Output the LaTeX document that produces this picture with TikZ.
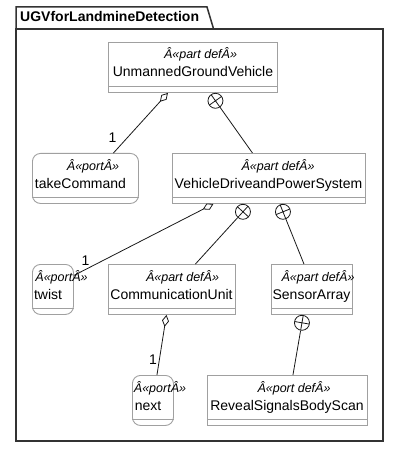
\documentclass[tikz,border=0pt]{standalone}
\usepackage{fontspec}
\setmainfont{Liberation Sans}
\usetikzlibrary{calc,arrows.meta}
\definecolor{boxgray}{RGB}{160,160,160}
\definecolor{framegray}{RGB}{51,51,51}
\definecolor{linedark}{RGB}{24,24,24}
\tikzset{
    partbox/.style={draw=boxgray,line width=0.9pt,rectangle,inner sep=0pt,minimum height=50pt,anchor=north west},
    portbox/.style={partbox,rounded corners=8pt},
    compline/.style={draw=boxgray,line width=0.9pt},
    stereotext/.style={anchor=base,inner sep=0pt,font=\fontsize{12.5}{14}\selectfont\itshape},
    nametext/.style={anchor=base,inner sep=0pt,font=\fontsize{14}{16}\selectfont},
    multtext/.style={inner sep=0pt,font=\fontsize{14}{16}\selectfont},
    ownedcirc/.style={circle,draw=linedark,line width=0.8pt,minimum size=15pt,inner sep=0pt,anchor=north},
    conn/.style={draw=linedark,line width=0.8pt},
    aggr/.style={conn,{Diamond[open,length=12pt,width=7pt]}-}
}
\begin{document}
\begin{tikzpicture}[x=1pt,y=-1pt]
        \useasboundingbox (0,0) rectangle (400,449);
        % 包框与标签页
        \draw[framegray,line width=1.5pt] (16,29) rectangle (383,441);
        \draw[framegray,line width=1.5pt] (16,29)--(16,7)--(207,7)--(213,27)--(213,29);
        \node[anchor=base west,inner sep=0pt,font=\fontsize{14}{16}\selectfont\bfseries] (pkg) at (20,22) {UGVforLandmineDetection};
        % 各个块
        \node[partbox,minimum width=169pt] (ugv) at (108,42) {};
        \node[portbox,minimum width=106pt] (tc) at (32,153) {};
        \node[partbox,minimum width=193pt] (vdps) at (172,153) {};
        \node[portbox,minimum width=41pt] (twist) at (32,264) {};
        \node[partbox,minimum width=127pt] (cu) at (108,264) {};
        \node[partbox,minimum width=81pt] (sa) at (271,264) {};
        \node[portbox,minimum width=41pt] (nextport) at (132,375) {};
        \node[partbox,minimum width=160pt] (rsb) at (207,375) {};
        \foreach \b in {ugv,tc,vdps,twist,cu,sa,nextport,rsb}%分隔线
        {
            \draw[compline] ([yshift=6.5pt]\b.south west)--([yshift=6.5pt]\b.south east);
        }
        % 文字
        \node[stereotext] (ugvS) at (200.5,59) {Â«part defÂ»};
        \node[nametext] (ugvN) at (193,77) {UnmannedGroundVehicle};
        \node[stereotext] (tcS) at (93,170) {Â«portÂ»};
        \node[nametext] (tcN) at (80.5,188) {takeCommand};
        \node[stereotext] (vdpsS) at (278,170) {Â«part defÂ»};
        \node[nametext] (vdpsN) at (268.5,188) {VehicleDriveandPowerSystem};
        \node[stereotext] (twistS) at (61.5,281) {Â«portÂ»};
        \node[nametext] (twistN) at (48,299) {twist};
        \node[stereotext] (cuS) at (182.5,281) {Â«part defÂ»};
        \node[nametext] (cuN) at (171.5,299) {CommunicationUnit};
        \node[stereotext] (saS) at (318,281) {Â«part defÂ»};
        \node[nametext] (saN) at (311.5,299) {SensorArray};
        \node[stereotext] (nextS) at (160,392) {Â«portÂ»};
        \node[nametext] (nextN) at (148,410) {next};
        \node[stereotext] (rsbS) at (294,392) {Â«port defÂ»};
        \node[nametext] (rsbN) at (287,410) {RevealSignalsBodyScan};
        % 组合关系
        \node[ownedcirc] (oc1) at ([xshift=22.5pt]ugv.south) {};
        \node[ownedcirc] (oc2) at ([xshift=-26pt]vdps.south) {};
        \node[ownedcirc] (oc3) at ([xshift=14pt]vdps.south) {};
        \node[ownedcirc] (oc4) at ([xshift=-10pt]sa.south) {};
        \coordinate (vdpsIn) at ([xshift=-16.5pt]vdps.north);
        \coordinate (cuIn) at ([xshift=23.5pt]cu.north);
        \coordinate (saIn) at ([xshift=-8pt]sa.north);
        \coordinate (rsbIn) at ([xshift=5.5pt]rsb.north);
        \foreach \c/\t in {oc1/vdpsIn,oc2/cuIn,oc3/saIn,oc4/rsbIn}
        {
            \draw[conn] ($(\c)!7.5pt!(\t)$)--($(\c)!-7.5pt!(\t)$) ($(\c)!7.5pt!90:(\t)$)--($(\c)!7.5pt!-90:(\t)$);
            \draw[conn] (\c)--(\t);
        }
        % 聚合关系
        \draw[aggr] ([xshift=-25pt]ugv.south)--([xshift=28pt]tc.north);
        \draw[aggr] ([xshift=-55.5pt]vdps.south)--([yshift=14pt]twist.east);
        \draw[aggr] ([xshift=-5.5pt]cu.south)--([xshift=4pt]nextport.north);
        \node[multtext] (m1) at (112.5,137.5) {1};
        \node[multtext] (m2) at (85.5,261) {1};
        \node[multtext] (m3) at (153,360) {1};
\end{tikzpicture}
\end{document}
